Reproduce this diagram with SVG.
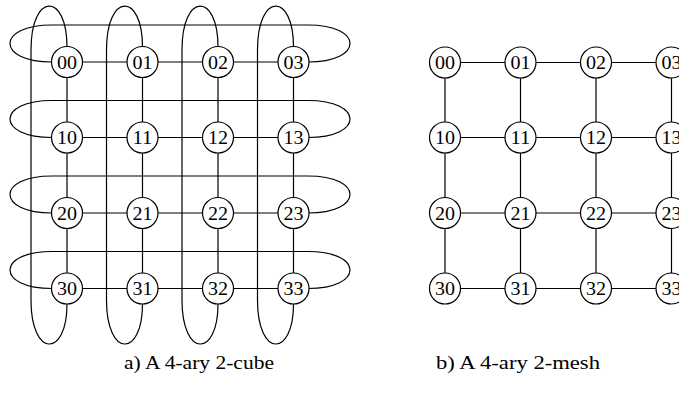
<svg xmlns="http://www.w3.org/2000/svg" width="679" height="396" viewBox="0 0 679 396">
<style>
.e{fill:none;stroke:#000;stroke-width:1.2}
.n circle{fill:#fff;stroke:#000;stroke-width:1.2}
.n text{font-family:"Liberation Serif",serif;font-size:18.5px;text-anchor:middle;fill:#000}
.cap{font-family:"Liberation Serif",serif;font-size:18px;text-anchor:middle;fill:#000}
</style>
<g id="connectors" class="e">
<path d="M67,62H293.5M67,137.5H293.5M67,213H293.5M67,288.5H293.5"/>
<path d="M67,62V288.5M142.5,62V288.5M218,62V288.5M293.5,62V288.5"/>
<path d="M52,62C-4,62 -4,25 52,25L308,25C364,25 364,62 308,62"/>
<path d="M52,137.5C-4,137.5 -4,100.5 52,100.5L308,100.5C364,100.5 364,137.5 308,137.5"/>
<path d="M52,213C-4,213 -4,176 52,176L308,176C364,176 364,213 308,213"/>
<path d="M52,288.5C-4,288.5 -4,251.5 52,251.5L308,251.5C364,251.5 364,288.5 308,288.5"/>
<path d="M67,47C67,-8 31,-8 31,50L31,300C31,358 67,358 67,304"/>
<path d="M142.5,47C142.5,-8 106.5,-8 106.5,50L106.5,300C106.5,358 142.5,358 142.5,304"/>
<path d="M218,47C218,-8 182,-8 182,50L182,300C182,358 218,358 218,304"/>
<path d="M293.5,47C293.5,-8 257.5,-8 257.5,50L257.5,300C257.5,358 293.5,358 293.5,304"/>
<path d="M445,62.5H671.5M445,137.5H671.5M445,213H671.5M445,288.5H671.5"/>
<path d="M445,62.5V288.5M520.5,62.5V288.5M596,62.5V288.5M671.5,62.5V288.5"/>
</g>
<g id="cube-nodes">
<g id="c00" class="n"><circle cx="67" cy="62" r="15.5"/><text x="67" y="68.5" textLength="20" lengthAdjust="spacingAndGlyphs">00</text></g>
<g id="c01" class="n"><circle cx="142.5" cy="62" r="15.5"/><text x="142.5" y="68.5" textLength="20" lengthAdjust="spacingAndGlyphs">01</text></g>
<g id="c02" class="n"><circle cx="218" cy="62" r="15.5"/><text x="218" y="68.5" textLength="20" lengthAdjust="spacingAndGlyphs">02</text></g>
<g id="c03" class="n"><circle cx="293.5" cy="62" r="15.5"/><text x="293.5" y="68.5" textLength="20" lengthAdjust="spacingAndGlyphs">03</text></g>
<g id="c10" class="n"><circle cx="67" cy="137.5" r="15.5"/><text x="67" y="144" textLength="20" lengthAdjust="spacingAndGlyphs">10</text></g>
<g id="c11" class="n"><circle cx="142.5" cy="137.5" r="15.5"/><text x="142.5" y="144" textLength="20" lengthAdjust="spacingAndGlyphs">11</text></g>
<g id="c12" class="n"><circle cx="218" cy="137.5" r="15.5"/><text x="218" y="144" textLength="20" lengthAdjust="spacingAndGlyphs">12</text></g>
<g id="c13" class="n"><circle cx="293.5" cy="137.5" r="15.5"/><text x="293.5" y="144" textLength="20" lengthAdjust="spacingAndGlyphs">13</text></g>
<g id="c20" class="n"><circle cx="67" cy="213" r="15.5"/><text x="67" y="219.5" textLength="20" lengthAdjust="spacingAndGlyphs">20</text></g>
<g id="c21" class="n"><circle cx="142.5" cy="213" r="15.5"/><text x="142.5" y="219.5" textLength="20" lengthAdjust="spacingAndGlyphs">21</text></g>
<g id="c22" class="n"><circle cx="218" cy="213" r="15.5"/><text x="218" y="219.5" textLength="20" lengthAdjust="spacingAndGlyphs">22</text></g>
<g id="c23" class="n"><circle cx="293.5" cy="213" r="15.5"/><text x="293.5" y="219.5" textLength="20" lengthAdjust="spacingAndGlyphs">23</text></g>
<g id="c30" class="n"><circle cx="67" cy="288.5" r="15.5"/><text x="67" y="295" textLength="20" lengthAdjust="spacingAndGlyphs">30</text></g>
<g id="c31" class="n"><circle cx="142.5" cy="288.5" r="15.5"/><text x="142.5" y="295" textLength="20" lengthAdjust="spacingAndGlyphs">31</text></g>
<g id="c32" class="n"><circle cx="218" cy="288.5" r="15.5"/><text x="218" y="295" textLength="20" lengthAdjust="spacingAndGlyphs">32</text></g>
<g id="c33" class="n"><circle cx="293.5" cy="288.5" r="15.5"/><text x="293.5" y="295" textLength="20" lengthAdjust="spacingAndGlyphs">33</text></g>
</g>
<g id="mesh-nodes">
<g id="m00" class="n"><circle cx="445" cy="62.5" r="15.5"/><text x="445" y="69" textLength="20" lengthAdjust="spacingAndGlyphs">00</text></g>
<g id="m01" class="n"><circle cx="520.5" cy="62.5" r="15.5"/><text x="520.5" y="69" textLength="20" lengthAdjust="spacingAndGlyphs">01</text></g>
<g id="m02" class="n"><circle cx="596" cy="62.5" r="15.5"/><text x="596" y="69" textLength="20" lengthAdjust="spacingAndGlyphs">02</text></g>
<g id="m03" class="n"><circle cx="671.5" cy="62.5" r="15.5"/><text x="671.5" y="69" textLength="20" lengthAdjust="spacingAndGlyphs">03</text></g>
<g id="m10" class="n"><circle cx="445" cy="137.5" r="15.5"/><text x="445" y="144" textLength="20" lengthAdjust="spacingAndGlyphs">10</text></g>
<g id="m11" class="n"><circle cx="520.5" cy="137.5" r="15.5"/><text x="520.5" y="144" textLength="20" lengthAdjust="spacingAndGlyphs">11</text></g>
<g id="m12" class="n"><circle cx="596" cy="137.5" r="15.5"/><text x="596" y="144" textLength="20" lengthAdjust="spacingAndGlyphs">12</text></g>
<g id="m13" class="n"><circle cx="671.5" cy="137.5" r="15.5"/><text x="671.5" y="144" textLength="20" lengthAdjust="spacingAndGlyphs">13</text></g>
<g id="m20" class="n"><circle cx="445" cy="213" r="15.5"/><text x="445" y="219.5" textLength="20" lengthAdjust="spacingAndGlyphs">20</text></g>
<g id="m21" class="n"><circle cx="520.5" cy="213" r="15.5"/><text x="520.5" y="219.5" textLength="20" lengthAdjust="spacingAndGlyphs">21</text></g>
<g id="m22" class="n"><circle cx="596" cy="213" r="15.5"/><text x="596" y="219.5" textLength="20" lengthAdjust="spacingAndGlyphs">22</text></g>
<g id="m23" class="n"><circle cx="671.5" cy="213" r="15.5"/><text x="671.5" y="219.5" textLength="20" lengthAdjust="spacingAndGlyphs">23</text></g>
<g id="m30" class="n"><circle cx="445" cy="288.5" r="15.5"/><text x="445" y="295" textLength="20" lengthAdjust="spacingAndGlyphs">30</text></g>
<g id="m31" class="n"><circle cx="520.5" cy="288.5" r="15.5"/><text x="520.5" y="295" textLength="20" lengthAdjust="spacingAndGlyphs">31</text></g>
<g id="m32" class="n"><circle cx="596" cy="288.5" r="15.5"/><text x="596" y="295" textLength="20" lengthAdjust="spacingAndGlyphs">32</text></g>
<g id="m33" class="n"><circle cx="671.5" cy="288.5" r="15.5"/><text x="671.5" y="295" textLength="20" lengthAdjust="spacingAndGlyphs">33</text></g>
</g>
<g id="captions">
<text class="cap" x="199" y="369" textLength="150" lengthAdjust="spacingAndGlyphs">a) A 4-ary 2-cube</text>
<text class="cap" x="518" y="369" textLength="164" lengthAdjust="spacingAndGlyphs">b) A 4-ary 2-mesh</text>
</g>
</svg>
